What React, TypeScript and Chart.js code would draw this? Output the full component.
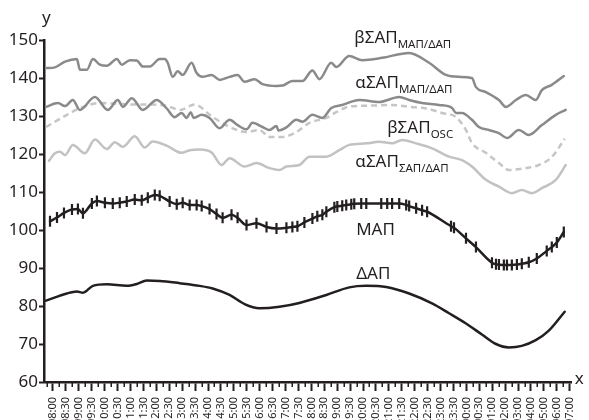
import React, { useEffect, useRef } from "react";
import { Chart, registerables } from "chart.js";

Chart.register(...registerables);

// ---------- data ----------
const timeLabels = [
  "08:00", "08:30", "09:00", "09:30", "10:00", "10:30", "11:00", "11:30",
  "12:00", "12:30", "13:00", "13:30", "14:00", "14:30", "15:00", "15:30",
  "16:00", "16:30", "17:00", "17:30", "18:00", "18:30", "19:00", "19:30",
  "20:00", "20:30", "21:00", "21:30", "22:00", "22:30", "23:00", "23:30",
  "00:00", "00:30", "01:00", "02:00", "03:00", "04:00", "05:00", "06:00", "07:00",
];
const yTicks = [60, 70, 80, 90, 100, 110, 120, 130, 140, 150];

// x positions are in label-slot units (0 = first label)
const betaMapX = [-0.54,0.15,0.93,1.85,2.08,2.63,3.09,3.63,4.17,4.94,5.33,5.95,6.49,6.95,7.49,8.26,8.65,8.88,9.27,9.65,10.04,10.73,11.12,11.58,12.28,12.90,13.67,14.29,14.83,15.60,16.22,17.30,17.76,18.53,19.31,20.08,20.62,21.54,21.93,22.93,23.94,25.48,27.57,29.11,30.42,31.43,32.43,32.74,33.51,34.52,35.06,35.83,36.60,37.37,37.84,38.61,39.54];
const betaMapY = [142.6,142.8,144.3,145,142.2,142.2,145,143.5,143.2,145,143.5,144.7,144.6,143,143,145,145,144,140.3,141.8,140.8,144,141.3,140.3,140.8,139.5,140.3,140.8,139,139.7,138.4,137.9,138,139.2,139.2,142,139.7,144,142.9,145.8,144.7,145.3,146.6,144,140.8,140.3,140,137.6,136.3,134.2,132.4,134.2,135.5,134.2,136.8,138.2,140.5];

const alphaMapX = [-0.54,0.39,0.93,1.54,2.08,3.24,4.25,5.02,5.41,6.10,6.95,8.03,8.80,9.42,9.96,10.35,10.66,10.89,11.51,12.12,12.90,13.67,14.29,14.98,15.44,16.22,16.76,17.30,17.45,18.07,18.84,19.31,20.08,20.85,21.54,22.39,23.71,25.25,26.80,27.57,28.57,29.88,30.89,31.20,31.66,32.43,32.97,33.75,34.52,35.14,36.06,36.83,37.84,38.92,39.69];
const alphaMapY = [132.4,133.4,132.6,134.2,131.6,135,131.6,134.2,132.4,134.7,131.6,134.2,132,129.7,130.8,129.5,131,129.5,130.3,129.5,126.8,129,127.6,126.5,128.2,127.1,126.3,127.4,126.2,127,129,128.5,130.3,129.5,132.1,132.9,134.2,133.7,135,134.2,133.4,132.9,132.1,130.8,130.8,129,127.1,126.3,125.5,124.2,126.3,125,127.6,130.3,131.6];

const betaOscX = [-0.54,1.08,2.24,3.63,5.17,6.33,7.72,8.88,9.81,10.97,12.36,13.75,14.98,15.98,16.76,17.76,18.84,19.85,21.16,21.93,22.93,24.25,26.25,27.57,28.88,30.12,31.20,31.97,32.43,33.51,34.52,35.29,36.60,37.61,38.61,39.61];
const betaOscY = [127.1,130.3,132.3,133.4,133.2,133,133,132.6,131.6,133,129.7,127,125.8,126.3,124.5,124.5,125.8,128.2,129.5,131,132.5,132.7,132.9,132.4,132,130.8,129.7,126.3,122.9,120.3,117.6,115.8,116.3,117.1,119.2,124];

const alphaSapX = [-0.31,0.15,0.54,0.93,1.54,2.47,3.24,4.17,4.79,5.41,6.33,7.10,7.72,8.80,9.96,10.58,11.35,12.28,13.05,13.67,14.83,15.75,16.76,17.53,18.07,19.07,19.85,21.16,22.16,22.93,24.25,25.25,26.25,27.03,28.11,29.34,30.66,31.66,32.43,33.51,34.52,35.52,36.29,37.07,37.84,38.92,39.69];
const alphaSapY = [118.2,120.2,120.6,119.7,122.4,120.2,123.8,121.3,123.1,121.9,124.7,121.7,123.3,122.2,120.3,121,121.2,120.4,117.1,118.9,116.7,117.6,116.3,115.8,116.7,117.1,119.3,119.3,121,122.4,122.8,123.2,122.8,123.7,122.8,121.5,119.3,118.4,116.7,113.2,111.4,109.7,110.5,109.7,111,113.2,117.1];

const mapX = [-0.23,0.31,0.85,1.47,1.93,2.32,3.01,3.40,4.02,4.63,5.17,5.71,6.33,6.87,7.34,7.88,8.26,9.03,9.58,10.04,10.58,11.12,11.51,12.12,12.66,13.13,13.82,14.29,14.98,15.75,16.53,17.30,18.07,18.53,18.92,19.46,20.08,20.46,20.85,21.16,21.78,22.01,22.39,22.70,23.09,23.32,23.86,24.25,25.41,25.87,26.25,26.80,27.34,27.57,28.11,28.57,28.96,30.81,31.04,31.97,32.74,33.98,34.29,34.52,34.90,35.14,35.52,35.91,36.29,36.83,37.45,38.22,38.61,39.00,39.54];
const mapY = [102.3,103.3,104.5,105.4,105.5,104.4,107,107.6,107.2,107,107.2,107.5,108,107.8,108.5,109.2,109,107.5,106.8,107.2,106.6,106.6,106.3,105.5,104.2,103.2,104,103.2,101.3,101.8,100.8,100.4,100.6,100.8,101,102,103,103.6,104,104.8,106,106.2,106.4,106.6,106.8,106.9,107,107,107,107,107,107,106.6,106.3,105.7,105.2,104.8,101,100.6,97.8,95.5,91.4,91,90.9,90.8,90.8,90.8,90.9,91.1,91.5,92.5,94.5,95.5,96.7,99.5];

const dapX = [-0.54,1.08,1.85,2.32,3.09,4.17,5.71,6.49,7.26,8.26,9.81,11.35,12.36,13.67,14.83,15.98,17.53,19.07,21.16,22.93,24.25,25.79,27.57,29.34,30.66,31.97,33.20,34.29,35.29,36.29,37.37,38.38,39.61];
const dapY = [81.4,83.3,83.8,83.5,85.3,85.7,85.3,85.8,86.7,86.6,86,85.3,84.6,82.9,80.5,79.4,79.8,80.8,82.9,84.9,85.3,85,83.3,80.7,78.1,75.4,72.5,70,69.1,69.5,71,73.5,78.5];

// series labels (main text + subscript)
const seriesNames = ["βΣΑΠ", "αΣΑΠ", "βΣΑΠ", "αΣΑΠ", "ΜΑΠ", "ΔΑΠ"];
const seriesSubs = ["ΜΑΠ/ΔΑΠ", "ΜΑΠ/ΔΑΠ", "OSC", "ΣΑΠ/ΔΑΠ", "", ""];

// ---------- layout / style (kept apart from data) ----------
const labelAnchors = [
  { x: 23.32, y: 149.2 },
  { x: 23.4, y: 137.4 },
  { x: 25.87, y: 125.5 },
  { x: 23.4, y: 116.7 },
  { x: 23.47, y: 98.7 },
  { x: 23.47, y: 87.1 },
];

const INK = "#231f20";
const FONT = "'Noto Sans', sans-serif";

const zip = (xs: number[], ys: number[]) =>
  xs.slice(0, Math.min(xs.length, ys.length)).map((x, i) => ({ x, y: ys[i] }));

const overlayPlugin = {
  id: "overlay",
  afterDraw(chart: any) {
    const { ctx, chartArea, scales } = chart;
    const xs = scales.x;
    const ys = scales.y;
    ctx.save();
    // minor ticks between labels
    ctx.strokeStyle = INK;
    ctx.lineWidth = 1.5;
    for (let k = -1; k < timeLabels.length - 1; k++) {
      const px = Math.round(xs.getPixelForValue(k + 0.5)) + 0.25;
      if (px < chartArea.left + 1) continue;
      ctx.beginPath();
      ctx.moveTo(px, chartArea.bottom);
      ctx.lineTo(px, chartArea.bottom + 5);
      ctx.stroke();
    }
    // axis letters
    ctx.fillStyle = INK;
    ctx.font = `17px ${FONT}`;
    ctx.textBaseline = "alphabetic";
    ctx.textAlign = "left";
    ctx.fillText("y", chartArea.left - 2, chartArea.top - 17);
    ctx.textBaseline = "middle";
    ctx.fillText("x", chartArea.right + 3, chartArea.bottom - 3);
    // series labels
    ctx.textBaseline = "alphabetic";
    seriesNames.forEach((name, i) => {
      const a = labelAnchors[i];
      const px = xs.getPixelForValue(a.x);
      const py = ys.getPixelForValue(a.y);
      ctx.font = `17px ${FONT}`;
      ctx.fillText(name, px, py);
      const w = ctx.measureText(name).width;
      if (seriesSubs[i]) {
        ctx.font = `11.5px ${FONT}`;
        ctx.fillText(seriesSubs[i], px + w, py + 5);
      }
    });
    ctx.restore();
  },
};

export default function App() {
  const canvasRef = useRef<HTMLCanvasElement | null>(null);

  useEffect(() => {
    document.body.style.margin = "0";
    const canvas = canvasRef.current;
    if (!canvas) return;
    Chart.defaults.font.family = FONT;
    Chart.defaults.color = INK;

    const lineCommon = {
      fill: false,
      pointRadius: 0,
      cubicInterpolationMode: "monotone" as const,
      borderCapStyle: "round" as const,
      borderJoinStyle: "round" as const,
    };

    const chart = new Chart(canvas, {
      type: "line",
      data: {
        datasets: [
          {
            ...lineCommon,
            label: "ΜΑΠ",
            data: zip(mapX, mapY),
            borderColor: INK,
            borderWidth: 2.5,
            pointStyle: "line",
            pointRadius: 5.5,
            pointRotation: 90,
            pointBorderWidth: 2.2,
            pointBorderColor: INK,
            pointBackgroundColor: INK,
          },
          { ...lineCommon, label: "ΔΑΠ", data: zip(dapX, dapY), borderColor: INK, borderWidth: 2.5 },
          { ...lineCommon, label: "βΣΑΠ ΜΑΠ/ΔΑΠ", data: zip(betaMapX, betaMapY), borderColor: "#8a8a8a", borderWidth: 2.5 },
          { ...lineCommon, label: "αΣΑΠ ΜΑΠ/ΔΑΠ", data: zip(alphaMapX, alphaMapY), borderColor: "#8a8a8a", borderWidth: 2.5 },
          { ...lineCommon, label: "βΣΑΠ OSC", data: zip(betaOscX, betaOscY), borderColor: "#c6c6c6", borderWidth: 2.5, borderDash: [6, 4], borderCapStyle: "butt" as const },
          { ...lineCommon, label: "αΣΑΠ ΣΑΠ/ΔΑΠ", data: zip(alphaSapX, alphaSapY), borderColor: "#c2c2c2", borderWidth: 2.5 },
        ],
      },
      options: {
        animation: false,
        responsive: false,
        layout: { padding: { top: 40, right: 16, left: 0, bottom: 0 } },
        plugins: { legend: { display: false }, tooltip: { enabled: false } },
        scales: {
          x: {
            type: "linear",
            min: -0.695,
            max: 40.15,
            afterBuildTicks: (scale: any) => {
              scale.ticks = timeLabels.map((_, i) => ({ value: i }));
            },
            afterFit: (scale: any) => {
              scale.height = 58;
            },
            ticks: {
              autoSkip: false,
              minRotation: 90,
              maxRotation: 90,
              padding: 6,
              color: INK,
              font: { size: 11, family: FONT },
              callback: (v: any) => timeLabels[Math.round(Number(v))] ?? "",
            },
            grid: {
              display: true,
              drawOnChartArea: false,
              drawTicks: true,
              tickLength: 9,
              tickColor: INK,
              tickWidth: 2,
            },
            border: { display: true, color: INK, width: 2.5 },
          },
          y: {
            type: "linear",
            min: 60,
            max: 150,
            afterBuildTicks: (scale: any) => {
              scale.ticks = yTicks.map((v) => ({ value: v }));
            },
            afterFit: (scale: any) => {
              scale.width = 44;
            },
            ticks: {
              padding: 1,
              color: INK,
              font: { size: 17, family: FONT },
            },
            grid: {
              display: true,
              drawOnChartArea: false,
              drawTicks: true,
              tickLength: 5,
              tickColor: INK,
              tickWidth: 2,
            },
            border: { display: true, color: INK, width: 2.5 },
          },
        },
      },
      plugins: [overlayPlugin],
    });

    return () => chart.destroy();
  }, []);

  return (
    <div style={{ width: 589, height: 420, overflow: "hidden", background: "#fff" }}>
      <canvas ref={canvasRef} width={589} height={440} style={{ display: "block" }} />
    </div>
  );
}
